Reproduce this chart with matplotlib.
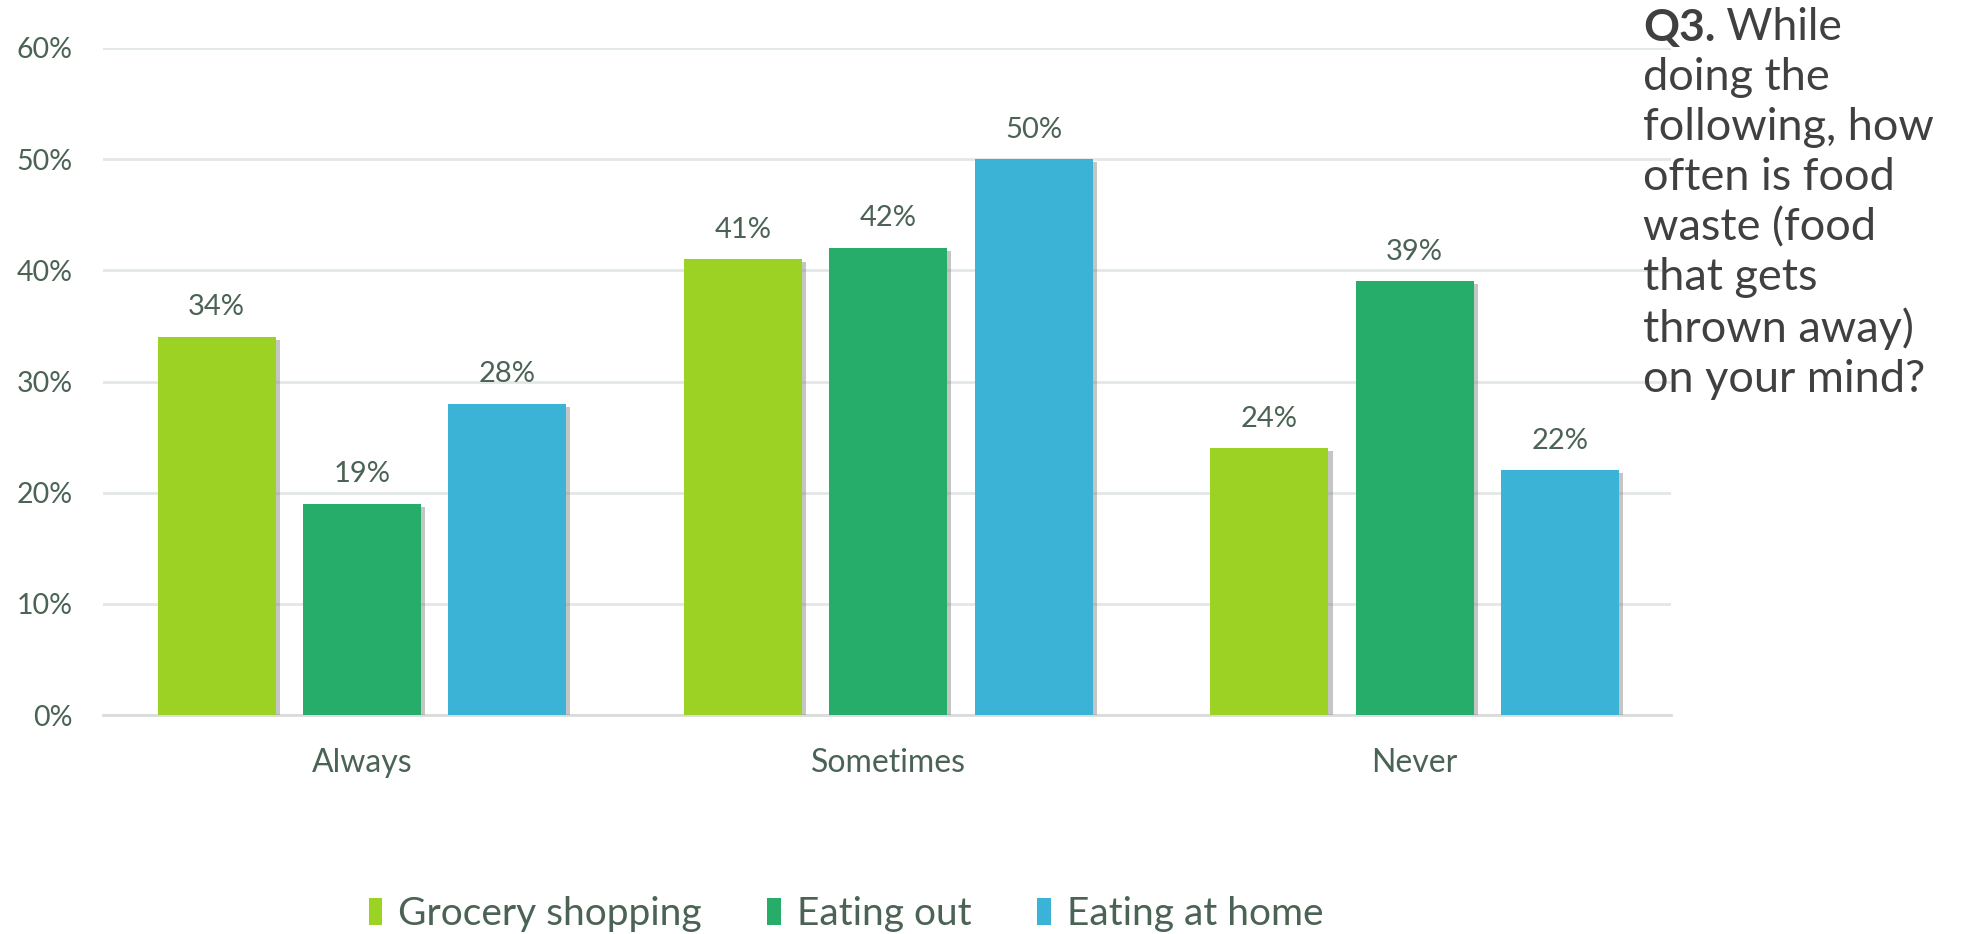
import numpy as np
import matplotlib.pyplot as plt
import matplotlib.patheffects as pe
from matplotlib.patches import Patch
from matplotlib.ticker import PercentFormatter

# データ
categories = ['Always', 'Sometimes', 'Never']
series_names = ['Grocery shopping', 'Eating out', 'Eating at home']
grocery = [34, 41, 24]
eating_out = [19, 42, 39]
eating_home = [28, 50, 22]
colors = ['#9bd224', '#27ad6a', '#3bb3d7']

txt_color = '#4a6354'
plt.rcParams['font.family'] = ['Lato', 'DejaVu Sans']

fig = plt.figure(figsize=(19.67, 9.34), dpi=100)
ax = fig.add_axes([103 / 1967, 1 - 715 / 934, (1671 - 103) / 1967, 667 / 934])

x = np.arange(len(categories))
width = 0.224
step = 0.276
shadow = [pe.SimplePatchShadow(offset=(3, -2), shadow_rgbFace='#7f7f7f', alpha=0.45), pe.Normal()]

for i, (vals, name) in enumerate(zip([grocery, eating_out, eating_home], series_names)):
    bars = ax.bar(x + (i - 1) * step, vals, width, color=colors[i], zorder=3)
    for b in bars:
        b.set_path_effects(shadow)
    for b, v in zip(bars, vals):
        ax.annotate(f'{v}%', (b.get_x() + b.get_width() / 2, v), xytext=(0, 12),
                    textcoords='offset points', ha='center', va='bottom',
                    fontsize=21, color=txt_color)

ax.set_ylim(0, 60)
ax.set_xlim(-0.492, 2.487)
ax.set_yticks(range(0, 61, 10))
ax.yaxis.set_major_formatter(PercentFormatter(decimals=0))
ax.set_xticks(x)
ax.set_xticklabels(categories)
ax.tick_params(axis='both', length=0, labelcolor=txt_color)
ax.tick_params(axis='y', pad=22, labelsize=20.5)
ax.tick_params(axis='x', pad=24, labelsize=23)
ax.grid(axis='y', color='#e2e8e6', linewidth=2, zorder=0)
for s in ['top', 'right', 'left']:
    ax.spines[s].set_visible(False)
ax.spines['bottom'].set_color('#d9dcdb')
ax.spines['bottom'].set_linewidth(2)

# 凡例
handles = [Patch(facecolor=c, label=n) for c, n in zip(colors, series_names)]
fig.legend(handles=handles, loc='center', bbox_to_anchor=(0.430, 0.021), ncol=3, frameon=False,
           fontsize=28, labelcolor=txt_color, handlelength=0.35, handleheight=0.7,
           handletextpad=0.4, columnspacing=1.7)

# 設問テキスト
q = fig.text(1643 / 1967, 1 - 8 / 934, 'Q3.', ha='left', va='top', fontsize=32,
             fontweight='bold', color='#404040')
ax.annotate(' While', xy=(1, 0), xycoords=q, ha='left', va='bottom', fontsize=32,
            color='#404040', annotation_clip=False)
fig.text(1643 / 1967, 1 - 57 / 934,
         'doing the\nfollowing, how\noften is food\nwaste (food\nthat gets\nthrown away)\non your mind?',
         ha='left', va='top', fontsize=32.5, color='#404040', linespacing=1.27)

fig.savefig('out.png', dpi=100)
